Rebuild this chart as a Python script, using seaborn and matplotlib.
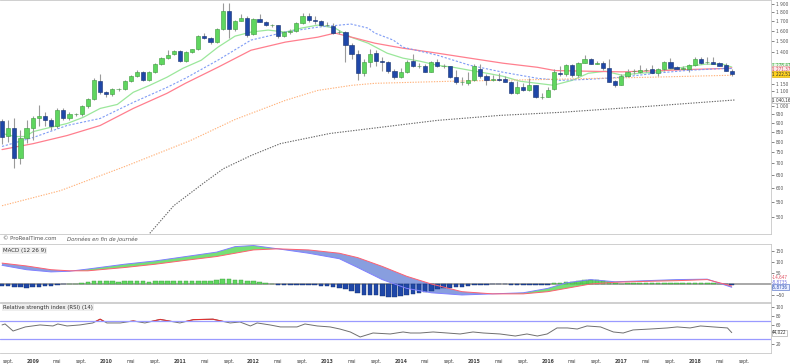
import numpy as np
import pandas as pd
import matplotlib
matplotlib.use("Agg")
import matplotlib.pyplot as plt
from matplotlib import font_manager
from matplotlib.patches import Rectangle
import seaborn as sns

# ---------------- data ----------------
months = pd.date_range("2008-08-01", periods=120, freq="MS")

opens = [910, 831, 870, 725, 817, 875, 926, 938, 915, 881, 974, 926,
         950, 950, 999, 1044, 1169, 1091, 1077, 1111, 1111, 1169, 1206, 1237,
         1176, 1237, 1301, 1351, 1385, 1411, 1325, 1403, 1429, 1551, 1532, 1494,
         1621, 1815, 1621, 1705, 1737, 1571, 1726, 1694, 1662, 1662, 1551, 1591,
         1601, 1683, 1759, 1715, 1705, 1662, 1652, 1591, 1591, 1466, 1385, 1229,
         1320, 1394, 1325, 1320, 1245, 1201, 1239, 1328, 1284, 1284, 1239, 1320,
         1284, 1284, 1201, 1164, 1159, 1181, 1266, 1206, 1181, 1183, 1187, 1164,
         1086, 1128, 1109, 1140, 1059, 1061, 1116, 1234, 1227, 1292, 1214, 1311,
         1340, 1306, 1311, 1274, 1169, 1145, 1206, 1245, 1239, 1252, 1260, 1234,
         1260, 1315, 1279, 1266, 1266, 1298, 1340, 1317, 1320, 1311, 1292, 1247]
closes = [827, 870, 723, 817, 875, 926, 938, 915, 881, 974, 926, 950,
          952, 999, 1044, 1176, 1091, 1077, 1111, 1113, 1169, 1206, 1237, 1176,
          1237, 1301, 1351, 1376, 1411, 1325, 1403, 1429, 1551, 1532, 1494, 1621,
          1815, 1621, 1705, 1737, 1561, 1726, 1694, 1662, 1662, 1551, 1591, 1601,
          1683, 1759, 1715, 1705, 1662, 1662, 1581, 1595, 1466, 1385, 1229, 1320,
          1391, 1325, 1320, 1245, 1201, 1239, 1320, 1284, 1290, 1239, 1320, 1284,
          1286, 1201, 1164, 1166, 1181, 1284, 1206, 1181, 1183, 1181, 1164, 1086,
          1128, 1109, 1140, 1059, 1061, 1109, 1239, 1227, 1292, 1214, 1311, 1340,
          1301, 1306, 1274, 1164, 1145, 1206, 1239, 1247, 1258, 1252, 1234, 1260,
          1315, 1274, 1260, 1266, 1298, 1340, 1311, 1317, 1306, 1290, 1247, 1222]
highs = [925, 915, 926, 859, 915, 938, 1005, 962, 926, 986, 986, 962,
         958, 1005, 1055, 1191, 1225, 1100, 1120, 1120, 1175, 1215, 1252, 1250,
         1245, 1310, 1360, 1420, 1418, 1420, 1410, 1435, 1560, 1581, 1540, 1630,
         1909, 1909, 1715, 1781, 1760, 1740, 1781, 1700, 1675, 1665, 1600, 1625,
         1690, 1790, 1795, 1755, 1720, 1695, 1680, 1615, 1600, 1490, 1420, 1345,
         1433, 1420, 1360, 1330, 1265, 1270, 1335, 1390, 1310, 1300, 1330, 1345,
         1300, 1290, 1255, 1200, 1235, 1305, 1300, 1220, 1215, 1230, 1205, 1170,
         1170, 1158, 1190, 1145, 1085, 1125, 1265, 1285, 1300, 1305, 1320, 1375,
         1355, 1330, 1330, 1340, 1175, 1220, 1265, 1262, 1295, 1270, 1295, 1270,
         1325, 1355, 1285, 1290, 1305, 1365, 1360, 1360, 1365, 1320, 1310, 1265]
lows = [790, 800, 680, 698, 796, 808, 886, 886, 859, 870, 915, 915,
        940, 940, 990, 1040, 1080, 1060, 1065, 1100, 1105, 1160, 1200, 1170,
        1170, 1230, 1295, 1345, 1375, 1315, 1320, 1395, 1420, 1520, 1480, 1485,
        1610, 1532, 1600, 1700, 1540, 1560, 1690, 1655, 1640, 1530, 1540, 1570,
        1595, 1675, 1690, 1675, 1650, 1650, 1570, 1570, 1320, 1340, 1176, 1210,
        1275, 1290, 1250, 1230, 1185, 1195, 1230, 1275, 1270, 1235, 1235, 1280,
        1270, 1190, 1150, 1145, 1145, 1170, 1195, 1145, 1170, 1170, 1160, 1080,
        1078, 1098, 1098, 1050, 1045, 1060, 1110, 1210, 1210, 1200, 1200, 1310,
        1300, 1300, 1255, 1160, 1125, 1140, 1200, 1220, 1230, 1235, 1230, 1210,
        1250, 1270, 1260, 1260, 1240, 1290, 1305, 1305, 1300, 1285, 1245, 1210]

# moving averages (month index, price)
ma_green_x = [0, 2.1, 3.8, 5.1, 7.8, 10.6, 13.2, 16.0, 18.8, 21.4, 24.1, 26.9, 29.5, 32.5, 35.2,
              38.0, 40.6, 43.4, 46.2, 48.8, 51.5, 54.3, 56.9, 59.7, 62.8, 65.4, 68.2, 71.0,
              73.6, 76.3, 79.1, 81.7, 84.5, 87.3, 89.9, 93.0, 95.6, 98.4, 101.1, 103.8,
              106.5, 109.3, 111.9, 114.7, 117.5, 119]
ma_green_y = [843, 827, 827, 853, 875, 897, 932, 986, 1011, 1091, 1140, 1199, 1268, 1334, 1447,
              1551, 1591, 1611, 1591, 1631, 1662, 1631, 1541, 1484, 1394, 1351, 1325, 1292,
              1276, 1252, 1229, 1206, 1169, 1154, 1140, 1176, 1229, 1245, 1214, 1229,
              1237, 1260, 1284, 1301, 1301, 1278]
ma_red_x = [0, 5.1, 10.6, 16.0, 21.4, 26.9, 29.9, 35.2, 40.6, 46.2, 51.5, 54.3, 57.6, 60.8,
            65.4, 71.0, 76.3, 81.7, 87.3, 90.2, 95.6, 101.1, 106.5, 111.9, 117.5, 119]
ma_red_y = [762, 791, 832, 886, 986, 1084, 1154, 1276, 1420, 1494, 1541, 1581, 1532, 1484,
            1438, 1394, 1351, 1309, 1276, 1250, 1245, 1240, 1248, 1258, 1266, 1271]
ma_blue_x = [0, 5.1, 10.6, 16.0, 21.4, 26.9, 29.9, 35.2, 40.6, 46.2, 51.5, 56.9, 59.7, 60.8,
             63.8, 65.4, 71.0, 76.3, 81.7, 87.3, 91.0, 95.6, 101.1, 106.5, 111.9, 117.5, 119]
ma_blue_y = [777, 822, 886, 926, 1024, 1125, 1191, 1334, 1513, 1591, 1641, 1673, 1631, 1581,
             1513, 1447, 1376, 1292, 1237, 1191, 1176, 1183, 1199, 1229, 1252, 1266, 1266]
ma_orange_x = [0, 9.5, 20.4, 30.7, 38.0, 46.2, 51.5, 57.1, 60.8, 73.1, 89.4, 105.7, 119]
ma_orange_y = [536, 589, 689, 806, 920, 1037, 1104, 1140, 1154, 1169, 1183, 1199, 1214]
ma_black_x = [24.1, 28.0, 33.0, 36.1, 40.6, 45.4, 53.5, 71.0, 81.2, 91.0, 105.7, 119.6]
ma_black_y = [451, 536, 620, 676, 734, 791, 843, 915, 944, 962, 1000, 1040]

# MACD (12 26 9)
macd_x = [0, 4, 8, 11, 14, 20, 25, 30, 35, 38, 41, 45, 50, 55, 58, 62, 66, 70, 75, 80, 85, 89,
          92, 96, 100, 105, 110, 115, 119]
macd_line = [85, 65, 55, 58, 68, 90, 105, 125, 145, 170, 175, 160, 140, 115, 75, 20, -20, -40,
             -50, -45, -40, -20, 5, 20, 10, 15, 20, 22, -15]
macd_signal = [95, 82, 65, 60, 60, 75, 90, 108, 125, 140, 155, 160, 155, 140, 120, 80, 35, 0,
               -35, -45, -45, -35, -20, 0, 8, 12, 15, 20, -9]
macd_hist = [-8, -10, -12, -15, -16, -15, -12, -10, -8, -4, -2, 0, 2, 5, 8, 12, 14, 13, 12, 11,
             12, 13, 14, 12, 11, 12, 14, 15, 15, 13, 12, 12, 15, 15, 14, 16, 24, 22, 20, 19,
             14, 12, 8, 5, 2, -3, -5, -6, -5, -3, -4, -6, -8, -10, -14, -16, -22, -30, -42, -48,
             -50, -52, -55, -57, -58, -55, -50, -45, -40, -35, -30, -25, -20, -16, -14, -12, -10, -6, -4, -3,
             -2, -2, -2, -4, -4, -4, -3, -4, -5, -3, 3, 6, 9, 10, 13, 16, 17, 16, 14, 8,
             3, 2, 3, 3, 3, 3, 3, 3, 5, 5, 4, 4, 5, 6, 6, 5, 4, 2, -2, -6]

# RSI (14)
rsi_x = [0, 0.5, 1.8, 3.8, 6.2, 8.3, 9.1, 10.6, 12.7, 14.8, 16.0, 17.1, 19.3, 21.4, 23.3, 25.8,
         29.0, 31.2, 34.4, 37.2, 38.8, 40.5, 41.6, 43.7, 45.4, 48.1, 49.4, 51.4, 53.5, 55.1, 56.8,
         58.4, 60.5, 63.3, 65.4, 66.6, 68.2, 70.3, 72.6, 74.7, 76.8, 78.5, 81.2, 83.7, 85.6,
         87.3, 88.9, 90.5, 92.2, 93.8, 95.4, 97.6, 99.7, 101.3, 102.9, 105.7, 108.5, 110.1,
         112.2, 113.9, 116.0, 118.3, 119]
rsi_v = [60.6, 62.7, 47.5, 56.3, 60.6, 58.4, 62.7, 58.4, 60.6, 64.9, 73.0, 64.9, 64.9, 69.2, 64.9,
         72.5, 64.9, 72.0, 73.0, 64.9, 67.0, 58.4, 64.9, 60.6, 56.3, 56.3, 62.7, 58.4, 56.3, 51.8,
         45.4, 34.6, 43.2, 41.1, 45.4, 43.2, 43.2, 45.4, 43.2, 41.1, 45.4, 43.2, 41.1, 36.7, 41.1,
         36.7, 41.1, 54.1, 54.1, 51.8, 58.4, 56.3, 45.4, 43.2, 49.8, 51.8, 54.1, 56.3, 54.1, 58.4,
         56.3, 54.1, 44.0]

price_ticks = [500, 550, 600, 650, 700, 750, 800, 850, 900, 950, 1000, 1100, 1150,
               1400, 1500, 1600, 1700, 1800, 1900]

# ---------------- style ----------------
sns.set_theme(style="white")
plt.rcParams["font.family"] = ["DejaVu Sans"]
_names = {f.name for f in font_manager.fontManager.ttflist}
if "Liberation Sans Narrow" in _names:
    NARROW = dict(family=["Liberation Sans Narrow", "DejaVu Sans"])
    TS = 4.1
else:
    NARROW = dict(family=["DejaVu Sans"], stretch="condensed")
    TS = 3.5

W, H = 790, 364
fig = plt.figure(figsize=(W / 100, H / 100), dpi=100)
AXR = 771 / W
ax = fig.add_axes([0, 1 - 234 / H, AXR, 234 / H])
axm = fig.add_axes([0, 1 - 302 / H, AXR, 58 / H])
axr = fig.add_axes([0, 1 - 353 / H, AXR, 50 / H])

x = np.arange(len(closes))
XL = (-0.33, 125.4)
GREEN, GREEN_E = "#5fd65f", "#3c9a3c"
BLUE, BLUE_E = "#1f47a8", "#14306e"

# candles
o = np.array(opens, float); c = np.array(closes, float)
hi = np.array(highs, float); lo = np.array(lows, float)
up = c >= o
ax.vlines(x, lo, hi, color="#9a9a9a", lw=0.8, zorder=2)
bot = np.minimum(o, c); top = np.maximum(o, c)
top = np.where(top - bot < 2, bot + 2, top)
ax.bar(x[up], (top - bot)[up], bottom=bot[up], width=0.68, color=GREEN,
       edgecolor=GREEN_E, lw=0.4, zorder=3)
ax.bar(x[~up], (top - bot)[~up], bottom=bot[~up], width=0.68, color=BLUE,
       edgecolor=BLUE_E, lw=0.4, zorder=3)

ma = pd.concat([
    pd.DataFrame({"x": ma_green_x, "v": ma_green_y, "s": "g"}),
    pd.DataFrame({"x": ma_red_x, "v": ma_red_y, "s": "r"}),
])
sns.lineplot(data=ma, x="x", y="v", hue="s", palette={"g": "#9be79b", "r": "#ff7f8e"},
             lw=0.9, legend=False, ax=ax, zorder=1, sort=True, estimator=None)
sns.lineplot(x=ma_blue_x, y=ma_blue_y, color="#7f9cf5", lw=0.8, ls=(0, (2, 1.5)), ax=ax, zorder=1)
sns.lineplot(x=ma_orange_x, y=ma_orange_y, color="#ffb27a", lw=0.8, ls=(0, (1.2, 1.2)), ax=ax, zorder=1)
sns.lineplot(x=ma_black_x, y=ma_black_y, color="#666666", lw=0.8, ls=(0, (1.2, 1.2)), ax=ax, zorder=1)

ax.set_yscale("log")
ax.set_ylim(449, 1945)
ax.set_xlim(*XL)
ax.yaxis.tick_right()
ax.set_yticks(price_ticks)
ax.set_yticklabels([f"{t:,}".replace(",", " ") for t in price_ticks])
ax.yaxis.set_minor_locator(matplotlib.ticker.NullLocator())
ax.set_xticks([])
ax.set_xlabel(""); ax.set_ylabel("")


def style_y(a):
    a.tick_params(axis="y", labelsize=TS, colors="#555555", length=2, width=0.5, pad=1.5, right=True)
    for t in a.get_yticklabels():
        t.set(**NARROW)


style_y(ax)


def tag(a, yv, txt, fc, ec, tc, dy=0):
    a.annotate(txt, xy=(1.0, yv), xycoords=("axes fraction", "data"), xytext=(0.8, dy),
               textcoords="offset points", va="center", ha="left", fontsize=TS - 0.2, color=tc,
               bbox=dict(boxstyle="square,pad=0.1", fc=fc, ec=ec, lw=0.4), annotation_clip=False,
               **NARROW)


tag(ax, 1290, "1 278,47", "#eaf8ea", "#9be79b", "#3c9a3c")
tag(ax, 1262, "1 271,37", "#fde9ec", "#ff9aa6", "#d04050")
tag(ax, 1220, "1 222,51", "#ffd21f", "#d4a800", "#333333")
tag(ax, 1040, "1 040,16", "#ffffff", "#999999", "#333333")

# MACD panel
xs = np.array(macd_x, float)
ml = np.array(macd_line, float); sg = np.array(macd_signal, float)
axm.fill_between(xs, ml, sg, where=ml >= sg, interpolate=True, color="#66dd66", alpha=0.9, lw=0)
axm.fill_between(xs, ml, sg, where=ml < sg, interpolate=True, color="#6a86d8", alpha=0.8, lw=0)
sns.lineplot(x=macd_x, y=macd_line, color="#8080ff", lw=0.7, ax=axm)
sns.lineplot(x=macd_x, y=macd_signal, color="#ff6070", lw=0.7, ax=axm)
hcol = [GREEN if v >= 0 else BLUE for v in macd_hist]
axm.bar(x, macd_hist, width=0.75, color=hcol,
        edgecolor=[GREEN_E if v >= 0 else BLUE_E for v in macd_hist], lw=0.3)
axm.axhline(0, color="#999999", lw=1.2, zorder=0)
axm.set_xlim(*XL)
axm.set_ylim(-82, 182)
axm.yaxis.tick_right()
axm.set_yticks([-50, 50, 100, 150])
style_y(axm)
axm.set_xticks([])
tag(axm, 0, "-14,647", "#ffffff", "#ffffff", "#e05060", dy=4.5)
tag(axm, 0, "-8,8735", "#ffffff", "#ffffff", "#7070e0", dy=1.0)
tag(axm, 0, "-5,8736", "#e8ecff", "#4060c0", "#3050b0", dy=-2.5)
axm.text(0.004, 0.93, "MACD (12 26 9)", transform=axm.transAxes, fontsize=4.0, va="top",
         color="#333333", bbox=dict(boxstyle="square,pad=0.2", fc="#eeeeee", ec="none"))
fig.text(0.004, 1 - 239 / H, "© ProRealTime.com  ", fontsize=3.9, va="center", color="#555555")
fig.text(0.085, 1 - 239 / H, "Données en fin de journée", fontsize=3.9, va="center",
         color="#555555", style="italic")

# RSI panel
sns.lineplot(x=rsi_x, y=rsi_v, color="#6f6f6f", lw=0.7, ax=axr)
hot = axr.plot(rsi_x, rsi_v, color="#e03030", lw=0.8)[0]
hot.set_clip_path(Rectangle((-1, 70), 130, 40, transform=axr.transData))
axr.axhline(70, color="#9a9aff", lw=0.9)
axr.axhline(30, color="#9a9aff", lw=0.9)
axr.set_xlim(*XL)
axr.set_ylim(0, 108)
axr.yaxis.tick_right()
axr.set_yticks([20, 60, 80, 100])
style_y(axr)
tag(axr, 44.022, "44,022", "#ffffff", "#999999", "#333333")
axr.text(0.004, 0.96, "Relative strength index (RSI) (14)", transform=axr.transAxes, fontsize=3.9,
         va="top", color="#333333", bbox=dict(boxstyle="square,pad=0.2", fc="#eeeeee", ec="none"))

# x ticks
tick_pos, tick_lab, tick_bold = [], [], []
for i, m in enumerate(months.tolist() + [pd.Timestamp("2018-08-01"), pd.Timestamp("2018-09-01")]):
    if m.month == 1:
        tick_pos.append(i); tick_lab.append(str(m.year)); tick_bold.append(True)
    elif m.month == 5:
        tick_pos.append(i); tick_lab.append("mai"); tick_bold.append(False)
    elif m.month == 9:
        tick_pos.append(i); tick_lab.append("sept."); tick_bold.append(False)
axr.set_xticks(tick_pos)
axr.set_xticklabels(tick_lab)
for t, b in zip(axr.get_xticklabels(), tick_bold):
    t.set_fontweight("bold" if b else "normal")
    t.set(**NARROW)
axr.tick_params(axis="x", labelsize=TS + 0.2, colors="#444444", length=0, pad=4)
axr.set_xlabel(""); axr.set_ylabel("")
axm.set_xlabel(""); axm.set_ylabel("")

for a in (ax, axm, axr):
    for s in a.spines.values():
        s.set_color("#c8c8c8"); s.set_linewidth(0.6)
    a.spines["left"].set_visible(False)

fig.savefig("out.png", dpi=100)
